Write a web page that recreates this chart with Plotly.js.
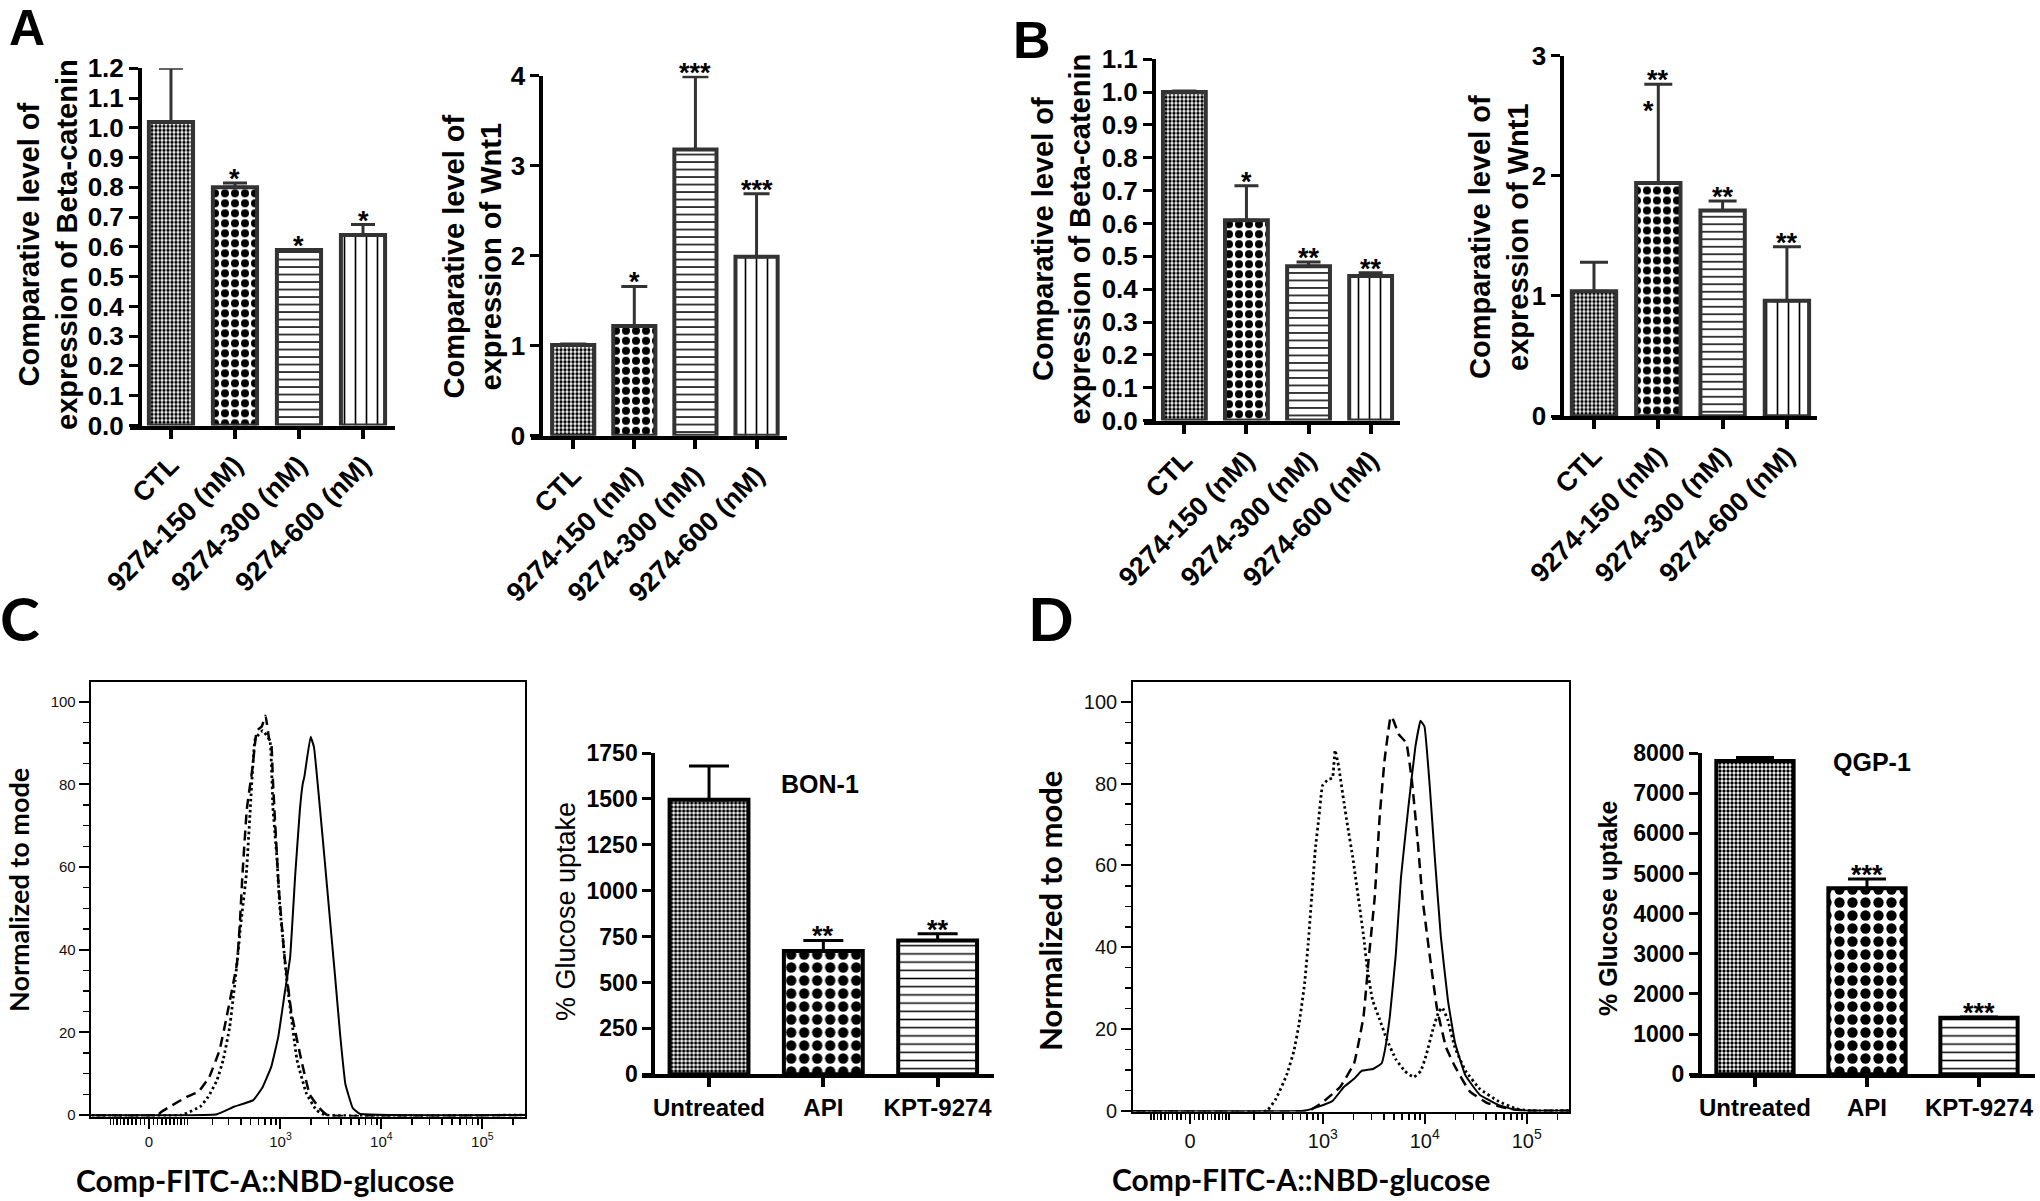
<!DOCTYPE html>
<html><head><meta charset="utf-8">
<script src="https://cdn.plot.ly/plotly-3.0.1.min.js"></script>
<style>html,body{margin:0;padding:0;background:#fff;} #chart{width:2040px;height:1201px;}</style>
</head><body><div id="chart"></div>
<script>
// ---------------- data ----------------
const groupsAB = ['CTL', '9274-150 (nM)', '9274-300 (nM)', '9274-600 (nM)'];
const betaA = [1.02, 0.80, 0.59, 0.64];
const betaAErr = [0.18, 0.015, 0.0, 0.035];
const betaAStars = ['', '*', '*', '*'];
const wntA = [1.01, 1.22, 3.18, 1.99];
const wntAErr = [0.01, 0.44, 0.81, 0.70];
const wntAStars = ['', '*', '***', '***'];
const betaB = [1.0, 0.61, 0.47, 0.44];
const betaBErr = [0.003, 0.105, 0.013, 0.01];
const betaBStars = ['', '*', '**', '**'];
const wntB = [1.04, 1.94, 1.71, 0.96];
const wntBErr = [0.24, 0.82, 0.08, 0.45];
const wntBStars = ['', '**', '**', '**'];

const groupsCD = ['Untreated', 'API', 'KPT-9274'];
const glucBON = [1495, 671, 729];
const glucBONErr = [184, 58, 37];
const glucBONStars = ['', '**', '**'];
const glucQGP = [7800, 4635, 1410];
const glucQGPErr = [90, 227, 15];
const glucQGPStars = ['', '***', '***'];

// flow cytometry histograms (NBD-glucose intensity vs % of mode)
const bonSolidX = [-500, 225, 340, 535, 665, 810, 950, 1100, 1245, 1400, 1560, 1660, 1730, 1990, 2150, 2390, 2730, 3080, 3480, 3920, 4400, 5200, 6100, 300000];
const bonSolidY = [0, 0.2, 2, 3.6, 6.8, 11.7, 18.9, 29.4, 38, 58, 74, 80, 82, 91.5, 89, 77.7, 62.3, 47.9, 33.5, 19, 7.5, 1.7, 0.3, 0];
const bonDashedX = [-500, 20, 29, 49, 97, 138, 185, 240, 285, 365, 390, 415, 460, 525, 580, 650, 710, 770, 810, 840, 960, 1100, 1280, 1620, 1950, 2430, 2900, 300000];
const bonDashedY = [0, 0, 0.8, 2, 4.4, 5.6, 9.2, 15.7, 23.7, 36.7, 46, 58, 74, 84, 93, 94, 96.6, 91, 90, 81, 55, 38, 25, 13, 5, 1.7, 0, 0];
const bonDottedX = [-500, 81, 145, 180, 225, 262, 307, 350, 370, 400, 455, 495, 560, 665, 785, 840, 920, 985, 1060, 1150, 1460, 1810, 2270, 2800, 300000];
const bonDottedY = [0, 0, 2, 4.4, 8.4, 13.3, 21.3, 32.6, 38.2, 46.3, 58.3, 72.8, 91, 93, 90.5, 74.4, 62.4, 50.3, 42.2, 33, 13.3, 5.2, 1.2, 0, 0];

const qgpSolidX = [-500, 660, 910, 1250, 1610, 2030, 2390, 3100, 3790, 4050, 4550, 5200, 5850, 6900, 8100, 9100, 9950, 11200, 12560, 14400, 16900, 19900, 25000, 34600, 52000, 77000, 117000, 300000];
const qgpSolidY = [0, 0, 1, 2.4, 5.8, 7.8, 9.7, 10.2, 11.6, 14.5, 23, 38, 57, 74, 89, 95.4, 94, 79.5, 62, 42.6, 27, 16.5, 8.7, 3.9, 1.5, 0.2, 0, 0];
const qgpDashedX = [-500, 730, 990, 1480, 2030, 2510, 2820, 3230, 3620, 4050, 4600, 4760, 5600, 6600, 7470, 8470, 9520, 11200, 13200, 16200, 19900, 27500, 40800, 66000, 100000, 300000];
const qgpDashedY = [0, 0, 2, 5.8, 11.6, 23, 37, 52, 72, 86, 96, 96.4, 92, 90, 81, 67, 52, 38, 25, 15.5, 10.7, 4.8, 1.9, 0.5, 0, 0];
const qgpDottedX = [-500, 275, 341, 437, 516, 583, 660, 716, 777, 843, 914, 992, 1120, 1245, 1320, 1430, 1610, 1750, 1970, 2230, 2520, 2730, 3080, 3620, 4250, 5210, 6370, 7800, 9160, 10350, 12160, 13740, 14880, 16800, 19750, 25200, 34800, 52100, 77900, 107600, 300000];
const qgpDottedY = [0, 0, 2.9, 8.7, 14.5, 21.3, 31, 40.7, 52.3, 63.9, 71.7, 79.5, 81, 81.4, 88.2, 84.3, 75.6, 69.8, 62, 52.3, 42.6, 34.9, 27.1, 22.3, 17.4, 12.6, 9.7, 8.2, 9.7, 13.6, 20.3, 24.2, 25.2, 22.3, 15.5, 9.7, 5.3, 2.4, 0.5, 0, 0];

const flowTickVals = [0, 1000, 10000, 100000];
const flowTickText = ['0', '10<sup>3</sup>', '10<sup>4</sup>', '10<sup>5</sup>'];

// ---------------- helpers ----------------
const W = 2040, H = 1201;
const fx = v => v / W;
const fy = v => 1 - v / H;
const ARIAL = 'Liberation Sans, Arial, Helvetica, sans-serif';
const HUMAN = 'Lato, Open Sans, sans-serif';
// biexponential-like display transform used by the flow axis
const T = v => Math.asinh(v / 100) / Math.LN10;

const minorVals = [-100, 100];
for (let k = 1; k <= 9; k++) { minorVals.push(-10 * k, 10 * k); }
for (let k = 2; k <= 9; k++) { minorVals.push(100 * k, 1000 * k, 10000 * k); }
minorVals.push(200000);

const traces = [];
const layout = {
  width: W, height: H, margin: {l: 0, r: 0, t: 0, b: 0},
  paper_bgcolor: 'white', plot_bgcolor: 'rgba(0,0,0,0)',
  showlegend: false, font: {family: ARIAL, color: 'black'},
  annotations: []
};
const axName = (p, n) => n === 1 ? p + 'axis' : p + 'axis' + n;
const axRef = (p, n) => n === 1 ? p : p + n;

function barPanel(n, o) {
  traces.push({
    type: 'bar', x: o.cats, y: o.vals, xaxis: axRef('x', n), yaxis: axRef('y', n), width: 0.69,
    marker: {
      color: 'white', line: {color: o.edge, width: 4},
      pattern: {shape: o.pat.shape, size: o.pat.size, solidity: o.pat.solidity,
        fgcolor: 'black', bgcolor: 'white', fgopacity: 1, fillmode: 'overlay'}
    },
    error_y: {type: 'data', symmetric: false, array: o.errs, arrayminus: o.cats.map(() => 0),
      color: o.edge, thickness: 3, width: o.cap},
    hoverinfo: 'skip'
  });
  layout[axName('x', n)] = {
    domain: [fx(o.xd[0]), fx(o.xd[1])], range: o.xr, anchor: axRef('y', n), type: 'category',
    showline: true, linewidth: 4, linecolor: 'black', ticks: 'outside', ticklen: 9, tickwidth: 4,
    tickcolor: 'black', tickangle: o.angle, tickfont: o.xfont, showgrid: false, zeroline: false,
    automargin: false
  };
  layout[axName('y', n)] = {
    domain: [fy(o.yd[1]), fy(o.yd[0])], range: o.yr, anchor: 'free', position: fx(o.yx),
    showline: true, linewidth: 4, linecolor: 'black', ticks: 'outside', ticklen: 9, tickwidth: 3,
    tickcolor: 'black', dtick: o.dtick, tick0: 0, tickformat: o.fmt, tickfont: o.yfont,
    showgrid: false, zeroline: false, automargin: false
  };
  o.cats.forEach((c, i) => {
    if (!o.stars[i]) return;
    layout.annotations.push({xref: axRef('x', n), yref: axRef('y', n), x: c, y: o.vals[i] + o.errs[i],
      text: o.stars[i], showarrow: false, yanchor: 'bottom', yshift: -13,
      font: {family: ARIAL, size: 27, color: 'black', weight: 'bold'}});
  });
}

const patAB = {shape: ['.', '.', '-', '|'], size: [4, 10, 7.5, 11], solidity: [0.55, 0.5, 0.2, 0.15]};
const patCD = {shape: ['.', '.', '-'], size: [4, 13, 8.2], solidity: [0.55, 0.5, 0.18]};
const fAB_x = {family: ARIAL, size: 27, color: 'black', weight: 'bold'};
const fAB_y = {family: ARIAL, size: 26, color: 'black', weight: 'bold'};
const fCD_x = {family: ARIAL, size: 24, color: 'black', weight: 'bold'};
const fCD_y = {family: ARIAL, size: 23, color: 'black', weight: 'bold'};

barPanel(1, {cats: groupsAB, vals: betaA, errs: betaAErr, stars: betaAStars, pat: patAB, edge: '#333', cap: 12,
  xd: [130, 395], xr: [-0.64, 3.5], yx: 140, yd: [68.3, 425.5], yr: [0, 1.2], dtick: 0.1, fmt: '.1f',
  angle: -45, xfont: fAB_x, yfont: fAB_y});
barPanel(2, {cats: groupsAB, vals: wntA, errs: wntAErr, stars: wntAStars, pat: patAB, edge: '#333', cap: 13,
  xd: [531, 787], xr: [-0.69, 3.498], yx: 541.4, yd: [75.8, 435.8], yr: [0, 4], dtick: 1, fmt: 'd',
  angle: -45, xfont: fAB_x, yfont: fAB_y});
barPanel(3, {cats: groupsAB, vals: betaB, errs: betaBErr, stars: betaBStars, pat: patAB, edge: '#333', cap: 12,
  xd: [1144, 1400], xr: [-0.65, 3.473], yx: 1154, yd: [59.2, 420.6], yr: [0, 1.1], dtick: 0.1, fmt: '.1f',
  angle: -45, xfont: fAB_x, yfont: fAB_y});
barPanel(4, {cats: groupsAB, vals: wntB, errs: wntBErr, stars: wntBStars, pat: patAB, edge: '#333', cap: 14,
  xd: [1552, 1817.4], xr: [-0.653, 3.474], yx: 1562.3, yd: [55.5, 416.2], yr: [0, 3], dtick: 1, fmt: 'd',
  angle: -45, xfont: fAB_x, yfont: fAB_y});
barPanel(6, {cats: groupsCD, vals: glucBON, errs: glucBONErr, stars: glucBONStars, pat: patCD, edge: 'black', cap: 20,
  xd: [641.7, 994], xr: [-0.589, 2.493], yx: 653.3, yd: [753, 1074.3], yr: [0, 1750], dtick: 250, fmt: 'd',
  angle: 0, xfont: fCD_x, yfont: fCD_y});
barPanel(8, {cats: groupsCD, vals: glucQGP, errs: glucQGPErr, stars: glucQGPStars, pat: patCD, edge: 'black', cap: 19,
  xd: [1690, 2035], xr: [-0.58, 2.5], yx: 1700, yd: [753, 1074.3], yr: [0, 8000], dtick: 1000, fmt: 'd',
  angle: 0, xfont: fCD_x, yfont: fCD_y});

// extra star inside the error bar of panel B (Wnt1, 150 nM)
layout.annotations.push({xref: 'x4', yref: 'y4', x: groupsAB[1], y: 2.54, text: '*', showarrow: false,
  xshift: -10, yanchor: 'middle', font: {family: ARIAL, size: 27, color: 'black', weight: 'bold'}});

function flowPanel(n, o) {
  const styles = [
    {x: o.solid[0], y: o.solid[1], line: {color: 'black', width: 2, shape: 'spline', smoothing: 0.3}},
    {x: o.dashed[0], y: o.dashed[1], line: {color: 'black', width: 2.5, dash: '10px,6px', shape: 'spline', smoothing: 0.3}},
    {x: o.dotted[0], y: o.dotted[1], line: {color: 'black', width: 2.8, dash: '2.5px,3px', shape: 'spline', smoothing: 0.3}}
  ];
  styles.forEach(s => traces.push({type: 'scatter', mode: 'lines', x: s.x.map(T), y: s.y, line: s.line,
    xaxis: axRef('x', n), yaxis: axRef('y', n), hoverinfo: 'skip'}));
  layout[axName('x', n)] = {
    domain: [fx(o.xd[0]), fx(o.xd[1])], range: o.xr, anchor: axRef('y', n),
    showline: true, mirror: true, linewidth: 2, linecolor: 'black', showgrid: false, zeroline: false,
    tickmode: 'array', tickvals: flowTickVals.map(T), ticktext: flowTickText,
    ticks: 'outside', ticklen: 10, tickwidth: 2, tickcolor: 'black',
    tickfont: {family: ARIAL, size: o.xfs, color: '#111'},
    minor: {tickmode: 'array', tickvals: minorVals.map(T), ticks: 'outside', ticklen: 6, tickwidth: 1.5, tickcolor: 'black', showgrid: false},
    automargin: false
  };
  layout[axName('y', n)] = {
    domain: [fy(o.yd[1]), fy(o.yd[0])], range: o.yr, anchor: axRef('x', n),
    showline: true, mirror: true, linewidth: 2, linecolor: 'black', showgrid: false, zeroline: false,
    tick0: 0, dtick: 20, ticks: 'outside', ticklen: 10, tickwidth: 2, tickcolor: 'black',
    tickfont: {family: ARIAL, size: o.yfs, color: '#111'},
    minor: {dtick: 5, ticks: 'outside', ticklen: 6, tickwidth: 1.5, tickcolor: 'black', showgrid: false},
    automargin: false
  };
}
flowPanel(5, {solid: [bonSolidX, bonSolidY], dashed: [bonDashedX, bonDashedY], dotted: [bonDottedX, bonDottedY],
  xd: [90.7, 525], xr: [-0.577, 3.723], yd: [682, 1116.5], yr: [-0.36, 104.76], xfs: 15, yfs: 15});
flowPanel(7, {solid: [qgpSolidX, qgpSolidY], dashed: [qgpDashedX, qgpDashedY], dotted: [qgpDottedX, qgpDottedY],
  xd: [1133.2, 1569], xr: [-0.557, 3.716], yd: [682.2, 1111.5], yr: [-0.2, 104.84], xfs: 20, yfs: 20});

// ---------------- text ----------------
function txt(x, y, text, font, extra) {
  layout.annotations.push(Object.assign({xref: 'paper', yref: 'paper', x: fx(x), y: fy(y), text,
    showarrow: false, xanchor: 'center', yanchor: 'middle', font}, extra || {}));
}
const bold = (size, fam) => ({family: fam || ARIAL, size, color: 'black', weight: 'bold'});
txt(27, 28.5, 'A', bold(50));
txt(1032, 40.5, 'B', bold(52));
txt(19.6, 617.6, 'C', bold(60, HUMAN));
txt(1051, 618.5, 'D', bold(60, HUMAN));

txt(48, 245, 'Comparative level of<br>expression of Beta-catenin', bold(29), {textangle: -90});
txt(472, 256.5, 'Comparative level of<br>expression of Wnt1', bold(29), {textangle: -90});
txt(1061.5, 239, 'Comparative level of<br>expression of Beta-catenin', bold(29), {textangle: -90});
txt(1499, 237, 'Comparative level of<br>expression of Wnt1', bold(29), {textangle: -90});

txt(18, 890, 'Normalized to mode', bold(27, HUMAN), {textangle: -90});
txt(1050, 911, 'Normalized to mode', bold(31, HUMAN), {textangle: -90});
txt(265, 1180, 'Comp-FITC-A::NBD-glucose', bold(30, HUMAN));
txt(1301, 1179, 'Comp-FITC-A::NBD-glucose', bold(30, HUMAN));

txt(566, 912, '% Glucose uptake', {family: ARIAL, size: 27, color: 'black'}, {textangle: -90});
txt(1608, 909, '% Glucose uptake', bold(25), {textangle: -90});
txt(820, 784, 'BON-1', bold(25));
txt(1871.7, 762, 'QGP-1', bold(25));

Plotly.newPlot('chart', traces, layout, {displayModeBar: false, staticPlot: true});
</script>
</body></html>
